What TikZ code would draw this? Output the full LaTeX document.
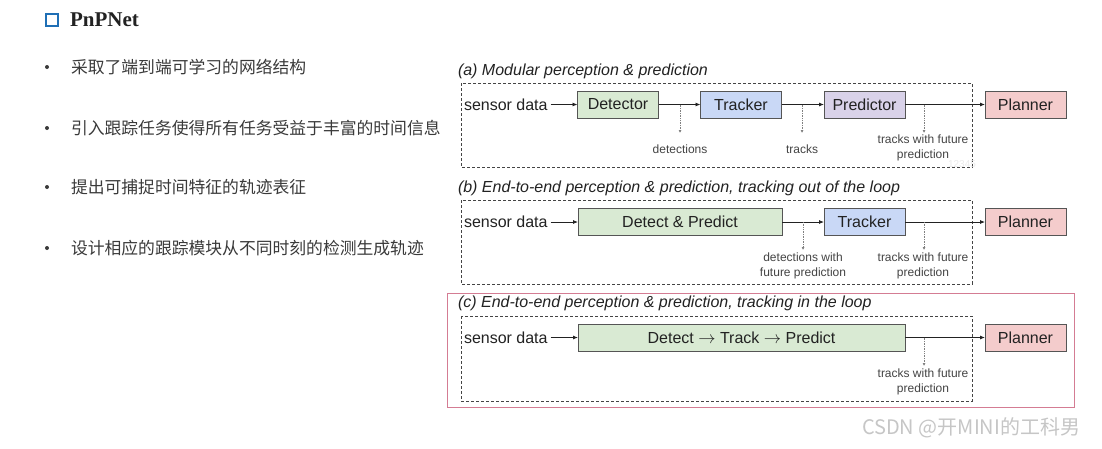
\documentclass[tikz,border=0pt]{standalone}
\usepackage{fontspec}
\setmainfont{Liberation Sans}
\newfontfamily\cjk{Noto Sans CJK SC}
\newfontfamily\titleserif{Liberation Serif}
\usetikzlibrary{arrows.meta}
\definecolor{detg}{HTML}{D9EAD3}
\definecolor{trkb}{HTML}{C9D8F6}
\definecolor{predp}{HTML}{D9D2E9}
\definecolor{planp}{HTML}{F4CCCC}
\definecolor{boxline}{HTML}{555555}
\definecolor{txt}{HTML}{222222}
\definecolor{lbl}{HTML}{444444}
\definecolor{cjkgray}{HTML}{3A3A3A}
\definecolor{iconblue}{HTML}{1F6FB5}
\definecolor{pinkframe}{HTML}{D47C93}
\begin{document}
\begin{tikzpicture}[x=1pt,y=-1pt,
  every node/.style={inner sep=0pt,outer sep=0pt},
  blk/.style={draw=boxline,line width=0.9pt,minimum height=27pt,text=txt,font=\fontsize{16}{19}\selectfont},
  sens/.style={inner xsep=3pt,text=txt,font=\fontsize{16}{19}\selectfont},
  arr/.style={draw=txt,line width=0.8pt,-{Latex[length=5pt,width=4pt]}},
  dotarr/.style={draw=gray,line width=0.7pt,densely dotted,-{Latex[length=3pt,width=3pt]}},
  frame/.style={draw=lbl,line width=0.8pt,dash pattern=on 3pt off 2pt},
  small/.style={text=lbl,font=\fontsize{12}{14.5}\selectfont,align=center},
  captxt/.style={anchor=west,text=txt,font=\itshape\fontsize{16}{19}\selectfont},
  cjkline/.style={anchor=west,text=cjkgray,font=\cjk\fontsize{16.8}{20}\selectfont},
  bul/.style={circle,fill=cjkgray,minimum size=4pt}
]
\fill[white] (0,0) rectangle (1102,448);
\useasboundingbox (0,0) rectangle (1102,448);

% title
\node[draw=iconblue,line width=2.4pt,minimum width=12pt,minimum height=12pt] (icon) at (52,20) {};
\node[anchor=west,text=txt,font=\titleserif\bfseries\fontsize{21}{24}\selectfont] (title) at (70,20) {PnPNet};

% bullets
\node[bul] (b1) at (47,67) {};
\node[cjkline] (t1) at (71,67) {采取了端到端可学习的网络结构};
\node[bul] (b2) at (47,128) {};
\node[cjkline] (t2) at (71,128) {引入跟踪任务使得所有任务受益于丰富的时间信息};
\node[bul] (b3) at (47,187) {};
\node[cjkline] (t3) at (71,187) {提出可捕捉时间特征的轨迹表征};
\node[bul] (b4) at (47,248) {};
\node[cjkline] (t4) at (71,248) {设计相应的跟踪模块从不同时刻的检测生成轨迹};

% ---------- (a) ----------
\node[captxt] (capa) at (458,71) {(a) Modular perception \& prediction};
\draw[frame] (461,83) rectangle (972,167);
\node[text=gray!16,font=\fontsize{10}{12}\selectfont] (wm1) at (962,164) {12345};
\node[sens,anchor=west] (sda) at (461,104.5) {sensor data};
\node[blk,fill=detg,minimum width=81pt] (deta) at (618,104.5) {Detector};
\node[blk,fill=trkb,minimum width=81pt] (trka) at (741,104.5) {Tracker};
\node[blk,fill=predp,minimum width=81pt] (preda) at (864.5,104.5) {Predictor};
\node[blk,fill=planp,minimum width=81pt] (plana) at (1025.5,104.5) {Planner};
\draw[arr] (sda) -- (deta);
\draw[arr] (deta) -- (trka);
\draw[arr] (trka) -- (preda);
\draw[arr] (preda) -- (plana);
\coordinate (a1s) at (680,104.5); \coordinate (a1e) at (680,133);
\coordinate (a2s) at (802,104.5); \coordinate (a2e) at (802,133);
\coordinate (a3s) at (924,104.5); \coordinate (a3e) at (924,133);
\draw[dotarr] (a1s) -- (a1e);
\draw[dotarr] (a2s) -- (a2e);
\draw[dotarr] (a3s) -- (a3e);
\node[small] (la1) at (680,149) {detections};
\node[small] (la2) at (802,149) {tracks};
\node[small] (la3) at (923,148) {tracks with future\\prediction};

% ---------- (b) ----------
\node[captxt] (capb) at (458,188) {(b) End-to-end perception \& prediction, tracking out of the loop};
\draw[frame] (461,200) rectangle (972,284);
\node[sens,anchor=west] (sdb) at (461,222) {sensor data};
\node[blk,fill=detg,minimum width=204pt] (dpb) at (680,222) {Detect \& Predict};
\node[blk,fill=trkb,minimum width=81pt] (trkb) at (864.5,222) {Tracker};
\node[blk,fill=planp,minimum width=81pt] (planb) at (1025.5,222) {Planner};
\draw[arr] (sdb) -- (dpb);
\draw[arr] (dpb) -- (trkb);
\draw[arr] (trkb) -- (planb);
\coordinate (b1s) at (803,222); \coordinate (b1e) at (803,250);
\coordinate (b2s) at (924,222); \coordinate (b2e) at (924,250);
\draw[dotarr] (b1s) -- (b1e);
\draw[dotarr] (b2s) -- (b2e);
\node[small] (lb1) at (803,266) {detections with\\future prediction};
\node[small] (lb2) at (923,266) {tracks with future\\prediction};

% ---------- (c) ----------
\draw[draw=pinkframe,line width=1pt] (447,293) rectangle (1074,407);
\node[captxt] (capc) at (458,303) {(c) End-to-end perception \& prediction, tracking in the loop};
\draw[frame] (461,316) rectangle (972,401);
\node[sens,anchor=west] (sdc) at (461,337.5) {sensor data};
\node[blk,fill=detg,minimum width=327pt] (dtpc) at (741.5,337.5) {Detect \(\rightarrow\) Track \(\rightarrow\) Predict};
\node[blk,fill=planp,minimum width=81pt] (planc) at (1025.5,337.5) {Planner};
\draw[arr] (sdc) -- (dtpc);
\draw[arr] (dtpc) -- (planc);
\coordinate (c1s) at (924,337.5); \coordinate (c1e) at (924,366);
\draw[dotarr] (c1s) -- (c1e);
\node[small] (lc1) at (923,382) {tracks with future\\prediction};

% watermark
\node[anchor=west,text=gray!45,font=\cjk\fontsize{20}{24}\selectfont] (wm2) at (862,428) {CSDN @开MINI的工科男};
\end{tikzpicture}
\end{document}
